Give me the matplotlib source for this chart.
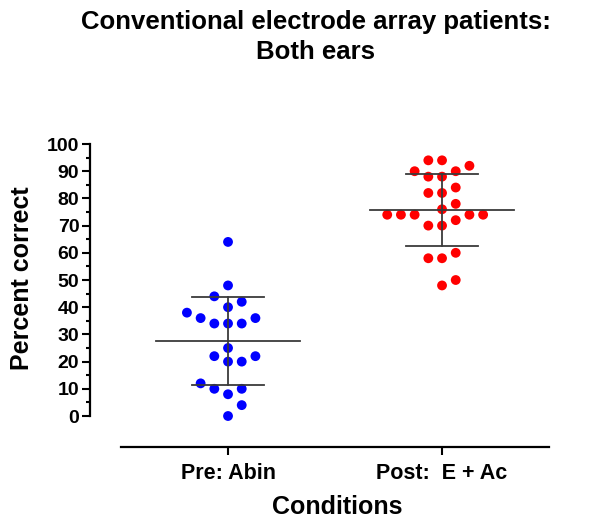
import numpy as np
import matplotlib
matplotlib.use("Agg")
import matplotlib.pyplot as plt
from matplotlib.ticker import MultipleLocator

plt.rcParams['font.family'] = ['Liberation Sans', 'DejaVu Sans']
plt.rcParams['font.weight'] = 'bold'

# values (percent correct)
conditions = ['Pre: Abin', 'Post:  E + Ac']
pre_abin = [64, 48, 44, 42, 40, 38, 36, 36, 34, 34, 34, 25, 22, 22, 20, 20,
            12, 10, 10, 8, 4, 0]
post_eac = [94, 94, 92, 90, 90, 88, 88, 84, 82, 82, 78, 76, 74, 74, 74, 74, 74,
            72, 70, 70, 60, 58, 58, 50, 48]
colors = ['#0000ff', '#ff0000']

fig = plt.figure(figsize=(6.03, 5.25), dpi=100)
ax = fig.add_axes([0.2007, 0.2076, 0.7098, 0.5181])
ax.set_xlim(0.5, 2.5)
ax.set_ylim(0, 100)


def swarm_offsets(values, xc, step_px=13.7, diam_px=13.6):
    # greedy grid beeswarm in pixel space
    order = np.argsort(values, kind='stable')
    placed = []  # (slot, ypix)
    slots = np.zeros(len(values))
    for i in order:
        yp = ax.transData.transform((xc, values[i]))[1]

        def free(s):
            for s2, y2 in placed:
                if np.hypot((s - s2) * step_px, yp - y2) < diam_px:
                    return False
            return True

        chosen = None
        for k in range(0, 20):
            if k == 0:
                if free(0):
                    chosen = 0
                    break
                continue
            left = sum(1 for s2, _ in placed if s2 < 0)
            right = sum(1 for s2, _ in placed if s2 > 0)
            cands = [k, -k] if right <= left else [-k, k]
            for c in cands:
                if free(c):
                    chosen = c
                    break
            if chosen is not None:
                break
        placed.append((chosen, yp))
        slots[i] = chosen
    x0 = ax.transData.transform((xc, 0))[0]
    xs = [ax.transData.inverted().transform((x0 + s * step_px, 0))[0] for s in slots]
    return np.array(xs)


for i, (vals, col) in enumerate(zip([pre_abin, post_eac], colors)):
    xc = i + 1
    vals = np.array(vals, dtype=float)
    xs = swarm_offsets(vals, xc)
    ax.scatter(xs, vals, s=50, color=col, edgecolors='none', zorder=3, clip_on=False)
    m = vals.mean()
    sd = vals.std(ddof=1)
    ax.plot([xc - 0.335, xc + 0.335], [m, m], color='#3a3a3a', lw=1.3, zorder=4)
    ax.plot([xc, xc], [m - sd, m + sd], color='#3a3a3a', lw=1.3, zorder=4)
    for yv in (m - sd, m + sd):
        ax.plot([xc - 0.167, xc + 0.167], [yv, yv], color='#3a3a3a', lw=1.3, zorder=4)

for side in ['top', 'right']:
    ax.spines[side].set_visible(False)
ax.spines['left'].set_position(('outward', 22))
ax.spines['bottom'].set_position(('outward', 22))
ax.spines['left'].set_bounds(0, 100)
ax.spines['left'].set_linewidth(1.6)
ax.spines['bottom'].set_linewidth(1.6)

ax.yaxis.set_major_locator(MultipleLocator(10))
ax.yaxis.set_minor_locator(MultipleLocator(5))
ax.tick_params(axis='y', which='major', length=6, width=1.5, labelsize=14, pad=2)
ax.tick_params(axis='y', which='minor', length=3, width=1.5)
ax.set_xticks([1, 2])
ax.set_xticklabels(conditions)
ax.tick_params(axis='x', length=6, width=1.5, labelsize=15.5, pad=6)
for lab in ax.get_xticklabels() + ax.get_yticklabels():
    lab.set_fontweight('bold')

# axis titles placed in figure coordinates
fig.text(22 / 603, 1 - 278 / 525, 'Percent correct', rotation=90,
         ha='center', va='center', fontsize=18, fontweight='bold')
fig.text(337 / 603, 1 - 507 / 525, 'Conditions',
         ha='center', va='center', fontsize=18, fontweight='bold')

fig.text(316 / 603, 1 - 37 / 525, 'Conventional electrode array patients:\nBoth ears',
         ha='center', va='center', fontsize=18.5, fontweight='bold', linespacing=1.35)

fig.savefig('out.png', dpi=100)
